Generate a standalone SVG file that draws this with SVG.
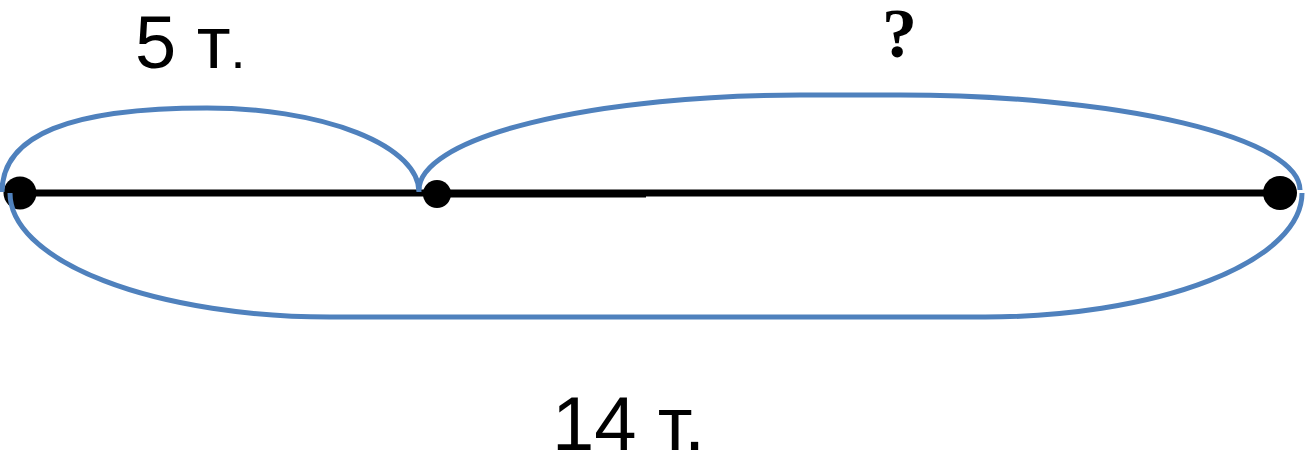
<svg xmlns="http://www.w3.org/2000/svg" width="1306" height="455" viewBox="0 0 1306 455">
  <style>
    .seg { stroke: #000; stroke-width: 7; fill: none; }
    .arc { stroke: #4F81BD; stroke-width: 5; fill: none; }
    .dot { fill: #000; }
    .lbl { font-family: "Liberation Sans", Arial, sans-serif; fill: #000; }
    .q { font-family: "Liberation Serif", "Times New Roman", serif; font-weight: bold; fill: #000; }
  </style>
  <rect width="1306" height="455" fill="#fff"/>
  <g id="connectors">
    <line class="seg" x1="12" y1="193" x2="1282" y2="193"/>
    <line class="seg" x1="437" y1="194" x2="646" y2="194"/>
  </g>
  <g id="point-a"><circle class="dot" cx="20" cy="193" r="16.5"/></g>
  <g id="point-b"><circle class="dot" cx="437" cy="194" r="14"/></g>
  <g id="point-c"><circle class="dot" cx="1280" cy="193" r="17"/></g>
  <g id="braces">
    <path class="arc" d="M2,192 C2,135 70,108 207,108 A212,84 0 0 1 419,192"/>
    <path class="arc" d="M419,190 A381,95 0 0 1 800,95 L900,95 A400,95 0 0 1 1300,190"/>
    <path class="arc" d="M10,193 A320,124 0 0 0 330,317 L985,317 A317,124 0 0 0 1302,193"/>
  </g>
  <g id="label-5">
    <text class="lbl" x="135" y="68" font-size="74">5 т<tspan font-size="54">.</tspan></text>
  </g>
  <g id="label-q">
    <text class="q" x="882" y="57" font-size="70">?</text>
  </g>
  <g id="label-14">
    <text class="lbl" x="552" y="450" font-size="76">14 т.</text>
  </g>
</svg>
